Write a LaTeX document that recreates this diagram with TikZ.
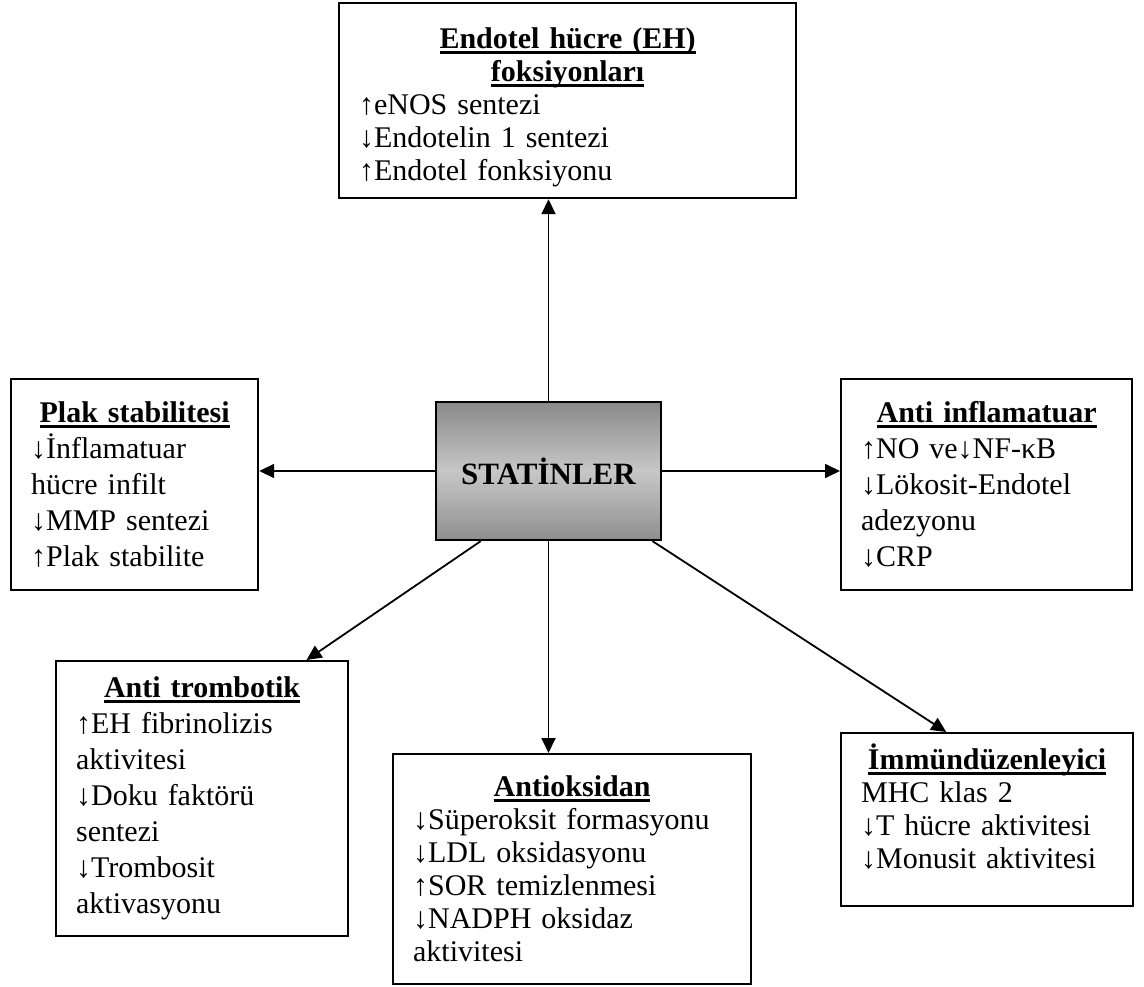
\documentclass[tikz,border=0pt]{standalone}
\usepackage{fontspec}
\setmainfont{Liberation Serif}
\usetikzlibrary{arrows.meta}

\newsavebox\baslikkutu
\newcommand\altcizgi[1]{\leavevmode\sbox\baslikkutu{#1}\rlap{\rule[-5pt]{\wd\baslikkutu}{2.5pt}}\usebox\baslikkutu}
\newcommand\baslik[1]{{\centering\bfseries\altcizgi{#1}\par}}

\tikzset{
  kutu/.style={draw, line width=2.2pt, anchor=north west, align=left, inner xsep=20pt, inner ysep=0pt,
    font=\fontsize{30}{33}\selectfont},
  genis/.style={font=\fontsize{30}{36}\selectfont},
  ok/.style={line width=1.8pt, -{Triangle[length=15pt,width=14pt]}}
}

\begin{document}
\begin{tikzpicture}[x=1pt, y=-1pt]
    \useasboundingbox (0,0) rectangle (1144,987);
    % merkez: statinler
    \node[draw, line width=2.2pt, minimum width=225pt, minimum height=138pt,
      top color=black!46, bottom color=black!44, middle color=black!22,
      font=\fontsize{31}{36}\selectfont\bfseries]
      (statin) at (548.5,471) {STATİNLER};
    % etki kutulari
    \node[kutu, text width=417pt, minimum height=195pt]
      (endotel) at (338,2) {\baslik{\rule{0pt}{35pt}Endotel hücre (EH)}\baslik{foksiyonları}%
      ↑eNOS sentezi\\↓Endotelin 1 sentezi\\↑Endotel fonksiyonu};
    \node[kutu, genis, text width=207pt, minimum height=211pt]
      (plak) at (10,378) {\baslik{Plak stabilitesi}%
      ↓İnflamatuar\\hücre infilt\\↓MMP sentezi\\↑Plak stabilite};
    \node[kutu, genis, text width=251pt, minimum height=211pt]
      (inflam) at (840,378) {\baslik{Anti inflamatuar}%
      ↑NO ve↓NF-κB\\↓Lökosit-Endotel\\adezyonu\\↓CRP};
    \node[kutu, genis, text width=252pt, minimum height=275pt]
      (trombo) at (55,660) {\baslik{Anti trombotik}%
      ↑EH fibrinolizis\\aktivitesi\\↓Doku faktörü\\sentezi\\↓Trombosit\\aktivasyonu};
    \node[kutu, text width=318pt, minimum height=230pt]
      (antiox) at (392,753) {\baslik{Antioksidan}%
      ↓Süperoksit formasyonu\\↓LDL oksidasyonu\\↑SOR temizlenmesi\\↓NADPH oksidaz\\aktivitesi};
    \node[kutu, text width=252pt, minimum height=173pt]
      (immun) at (840,732) {\baslik{İmmündüzenleyici}%
      MHC klas 2\\↓T hücre aktivitesi\\↓Monusit aktivitesi\rule[-26pt]{0pt}{26pt}};
    % oklar
    \draw[ok] (statin.north) -- (statin.north |- endotel.south);
    \draw[ok] (statin.west) -- (statin.west -| plak.east);
    \draw[ok] (statin.east) -- (statin.east -| inflam.west);
    \draw[ok] (statin.south) -- (statin.south |- antiox.north);
    \draw[ok] (statin.226) -- (trombo.53);
    \draw[ok] (statin.326) -- (immun.115);
\end{tikzpicture}
\end{document}
